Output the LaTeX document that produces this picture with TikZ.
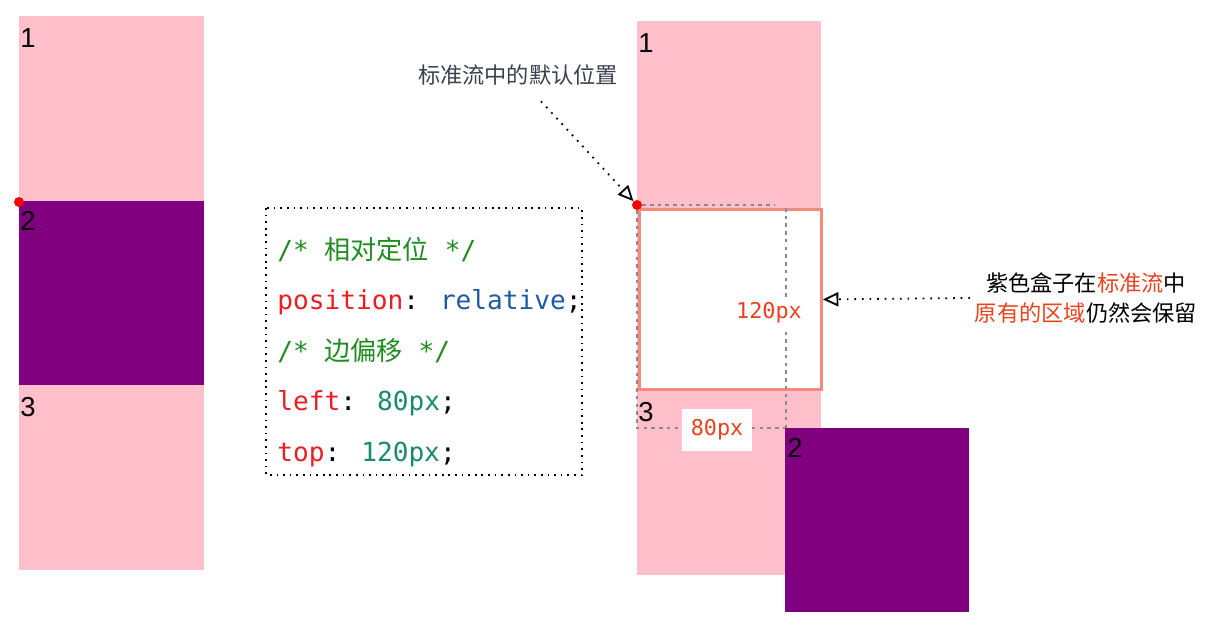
\documentclass[tikz,border=0pt]{standalone}
\usepackage{fontspec}
\setmainfont{Liberation Sans}
\newfontfamily\cjk{Noto Sans CJK SC}
\newfontfamily\codefont{DejaVu Sans Mono}
\usetikzlibrary{arrows.meta}

\definecolor{boxpink}{HTML}{FFC0CB}
\definecolor{boxpurple}{HTML}{800080}
\definecolor{edgecoral}{HTML}{F28A80}
\definecolor{notered}{HTML}{E8421E}
\definecolor{cmtgreen}{HTML}{1F8C1F}
\definecolor{kwred}{HTML}{EC1C24}
\definecolor{valblue}{HTML}{1F5AA6}
\definecolor{numteal}{HTML}{1A8A68}
\definecolor{slate}{HTML}{39404F}
\definecolor{guidegrey}{HTML}{8A8A8A}

\newcommand{\cmt}[1]{\textcolor{cmtgreen}{#1}}
\newcommand{\kw}[1]{\textcolor{kwred}{#1}}
\newcommand{\val}[1]{\textcolor{valblue}{#1}}
\newcommand{\num}[1]{\textcolor{numteal}{#1}}

\begin{document}
\begin{tikzpicture}
    [x=0.025cm, y=-0.025cm,
     numlabel/.style={anchor=north west, inner sep=0pt, font=\fontsize{19.5}{19.5}\selectfont},
     codeline/.style={anchor=base west, inner sep=0pt, font=\codefont\fontsize{18.6}{20}\selectfont},
     guide/.style={guidegrey, line width=0.8pt, dash pattern=on 2.5pt off 3pt},
     pointer/.style={line width=1.3pt, dash pattern=on 1.2pt off 4.2pt, -{Triangle[open, length=11pt, width=10pt]}},
     redtag/.style={text=notered, fill=white, font=\codefont\fontsize{15.5}{16}\selectfont},
     reddot/.style={circle, fill=red, inner sep=0pt, minimum size=0.25cm}]
    \useasboundingbox (0,0) rectangle (1231,634);

    % normal flow
    \fill[boxpink] (19,16) rectangle (204,201);
    \fill[boxpurple] (19,201) rectangle (204,385);
    \fill[boxpink] (19,385) rectangle (204,570);
    \node[numlabel] (a1) at (20,28) {1};
    \node[numlabel] (a2) at (20,211) {2};
    \node[numlabel] (a3) at (20,397) {3};
    \node[reddot] (dotL) at (19,202) {};

    % css code
    \draw[line width=1.3pt, dash pattern=on 1.2pt off 3.5pt] (266,208) rectangle (582,475);
    \foreach \code [count=\i] in {
        {\cmt{/* {\cjk 相对定位} */}},
        {\kw{position}: \val{relative};},
        {\cmt{/* {\cjk 边偏移} */}},
        {\kw{left}: \num{80px};},
        {\kw{top}: \num{120px};}}
      \node[codeline] (line\i) at (277,{259+50.5*(\i-1)}) {\code};

    % relative positioning
    \fill[boxpink] (637,21) rectangle (821,575);
    \node[draw=edgecoral, line width=2pt, fill=white, inner sep=0pt,
          minimum width=4.55cm, minimum height=4.5cm, anchor=north west] (ghost) at (638,208) {};
    \node[numlabel] (b1) at (638,33) {1};
    \node[numlabel] (b3) at (638,402) {3};
    \node[reddot] (dotR) at (637,205) {};
    \coordinate (shiftcorner) at (786,428);

    \draw[guide] (dotR) -- (775,205);
    \draw[guide] (dotR) -- (dotR |- shiftcorner) -- (shiftcorner);
    \draw[guide] (shiftcorner |- ghost.north) -- (shiftcorner);
    \node[redtag] (dy) at (769,313) {120px};
    \node[redtag, minimum width=1.75cm, minimum height=1.05cm] (dx) at (717,430) {80px};

    \fill[boxpurple] (785,428) rectangle (969,612);
    \node[numlabel] (b2) at (787,438) {2};

    % notes
    \node[text=slate, font=\cjk\fontsize{15.8}{18}\selectfont] (std) at (518,75) {标准流中的默认位置};
    \node[font=\cjk\fontsize{15.8}{22}\selectfont, align=center] (note) at (1086,298)
      {紫色盒子在\textcolor{notered}{标准流}中\\\textcolor{notered}{原有的区域}仍然会保留};

    \draw[pointer] ([shift={(23,11)}]std.south) -- (dotR);
    \draw[pointer] (note.west) -- (ghost.east);
  \end{tikzpicture}
\end{document}
